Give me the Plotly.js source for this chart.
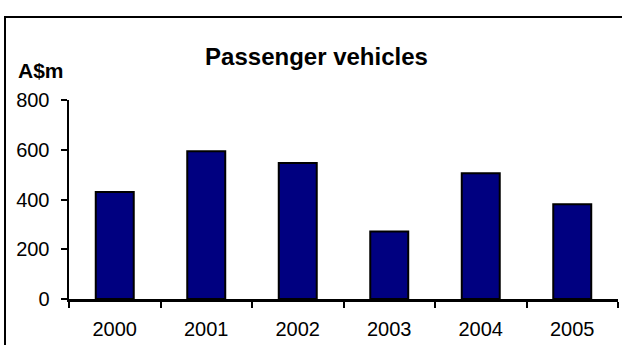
<!DOCTYPE html>
<html>
<head>
<meta charset="utf-8">
<script src="https://cdn.plot.ly/plotly-3.0.1.min.js"></script>
<style>
html,body{margin:0;padding:0;background:#fff;overflow:hidden;}
#chart{width:622px;height:345px;}
</style>
</head>
<body>
<div id="chart"></div>
<script>
const years = ['2000', '2001', '2002', '2003', '2004', '2005'];
const values = [430, 594, 547, 271, 506, 381];
const yTicks = [0, 200, 400, 600, 800];

const W = 622, H = 345;
const M = {l: 69, r: 4, t: 100, b: 46};
const pw = W - M.l - M.r, ph = H - M.t - M.b;
const px = v => (v - M.l) / pw;
const py = v => (H - M.b - v) / ph;

const trace = {
  type: 'bar',
  x: years,
  y: values,
  marker: {color: '#000080', line: {color: '#000000', width: 2}},
  hoverinfo: 'skip'
};

const font = {family: '"Liberation Sans", Arial, sans-serif', color: '#000000'};

const layout = {
  width: W, height: H,
  margin: M,
  paper_bgcolor: '#ffffff',
  plot_bgcolor: '#ffffff',
  showlegend: false,
  bargap: 0.585,
  font: Object.assign({size: 20}, font),
  title: {
    text: '<b>Passenger vehicles</b>',
    font: Object.assign({size: 24}, font),
    xref: 'container', x: 316.5 / W, xanchor: 'center',
    yref: 'container', y: 1 - 57 / H, yanchor: 'middle'
  },
  xaxis: {
    type: 'category',
    showline: true, linecolor: '#000', linewidth: 2.5,
    ticks: 'outside', ticklen: 6, tickwidth: 2, tickcolor: '#000',
    tickson: 'boundaries',
    showgrid: false, zeroline: false,
    tickfont: Object.assign({size: 20}, font),
    ticklabelstandoff: 10,
    fixedrange: true
  },
  yaxis: {
    range: [0, 800],
    tickvals: yTicks,
    ticktext: yTicks.map(String),
    showline: true, linecolor: '#000', linewidth: 2.5,
    ticks: 'outside', ticklen: 6, tickwidth: 2, tickcolor: '#000',
    showgrid: false, zeroline: false,
    tickfont: Object.assign({size: 20}, font),
    ticklabelstandoff: 7,
    fixedrange: true
  },
  annotations: [{
    text: '<b>A$m</b>',
    xref: 'paper', yref: 'paper',
    x: px(16), y: py(70),
    xanchor: 'left', yanchor: 'middle',
    showarrow: false,
    font: Object.assign({size: 21}, font)
  }],
  shapes: [{
    type: 'rect', xref: 'paper', yref: 'paper',
    x0: px(5), x1: px(W + 20), y0: py(H + 20), y1: py(17),
    line: {color: '#000', width: 2}, fillcolor: 'rgba(0,0,0,0)', layer: 'below'
  }]
};

Plotly.newPlot('chart', [trace], layout, {displayModeBar: false, staticPlot: true});
</script>
</body>
</html>
